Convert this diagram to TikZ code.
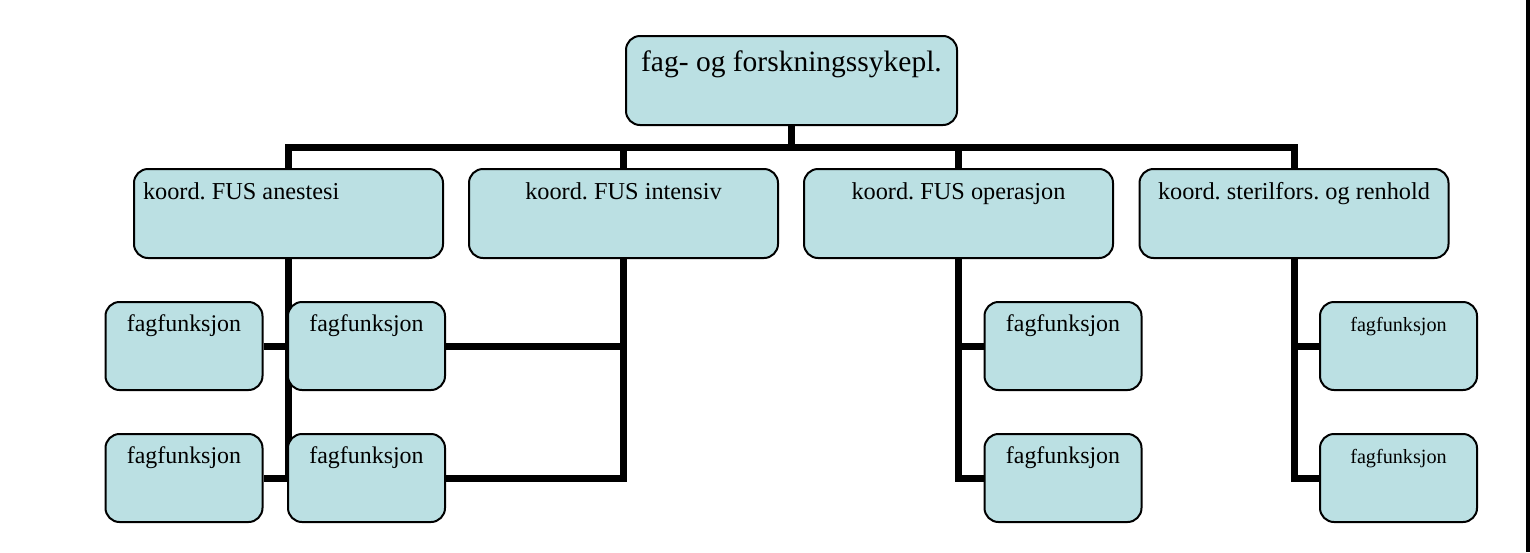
\documentclass[tikz,border=0pt]{standalone}
\usepackage{fontspec}
\setmainfont{Liberation Serif}
\frenchspacing
\usetikzlibrary{backgrounds}
\definecolor{boxfill}{RGB}{187,224,227}
\begin{document}
\begin{tikzpicture}[x=1pt,y=-1pt,
  box/.style={draw=black, line width=2pt, fill=boxfill, rounded corners=14pt,
    inner ysep=0pt, inner xsep=0pt, anchor=center},
  headbox/.style={box, minimum width=331pt, text height=35pt, text depth=54pt,
    font=\fontsize{29.5}{33}\selectfont},
  coordbox/.style={box, minimum width=309pt, text height=30pt, text depth=59pt,
    font=\fontsize{24.3}{28}\selectfont},
  funcbox/.style={box, minimum width=157pt, text height=29pt, text depth=59pt,
    font=\fontsize{23.9}{28}\selectfont},
  smallfuncbox/.style={funcbox, font=\fontsize{20.2}{24}\selectfont},
  conn/.style={draw=black, line width=7pt, line join=miter}
]
\useasboundingbox (0,0) rectangle (1530,552);
\fill[black] (1526,0) rectangle (1530,552);

\node[headbox] (top) at (791.5,80.5) {fag- og forskningssykepl.};

\node[coordbox, inner xsep=9pt] (b1) at (288.5,213.5) {\makebox[291pt][l]{koord. FUS anestesi}};
\node[coordbox] (b2) at (623.5,213.5) {koord. FUS intensiv};
\node[coordbox] (b3) at (958.5,213.5) {koord. FUS operasjon};
\node[coordbox] (b4) at (1294,213.5) {koord. sterilfors. og renhold};

\node[funcbox] (a1) at (184,346) {fagfunksjon};
\node[funcbox] (a2) at (184,478) {fagfunksjon};
\node[funcbox] (i1) at (366.5,346) {fagfunksjon};
\node[funcbox] (i2) at (366.5,478) {fagfunksjon};
\node[funcbox] (o1) at (1063,346) {fagfunksjon};
\node[funcbox] (o2) at (1063,478) {fagfunksjon};
\node[smallfuncbox] (s1) at (1398.5,346) {fagfunksjon};
\node[smallfuncbox] (s2) at (1398.5,478) {fagfunksjon};

\coordinate (bus) at (0,147.5);

\begin{pgfonlayer}{background}
  \draw[conn] (top.south) -- (top.south |- bus);
  \draw[conn] (b1.north) -- (b1.north |- bus) -- (b4.north |- bus) -- (b4.north);
  \draw[conn] (b2.north) -- (b2.north |- bus);
  \draw[conn] (b3.north) -- (b3.north |- bus);
  % anestesi
  \draw[conn] (b1.south) -- (b1.south |- a2.east) -- (a2.east);
  \draw[conn] (a1.east) -- (a1.east -| b1.south);
  % intensiv
  \draw[conn] (b2.south) -- (b2.south |- i2.east) -- (i2.east);
  \draw[conn] (i1.east) -- (i1.east -| b2.south);
  % operasjon
  \draw[conn] (b3.south) -- (b3.south |- o2.west) -- (o2.west);
  \draw[conn] (o1.west) -- (o1.west -| b3.south);
  % sterilfors
  \draw[conn] (b4.south) -- (b4.south |- s2.west) -- (s2.west);
  \draw[conn] (s1.west) -- (s1.west -| b4.south);
\end{pgfonlayer}
\end{tikzpicture}
\end{document}
